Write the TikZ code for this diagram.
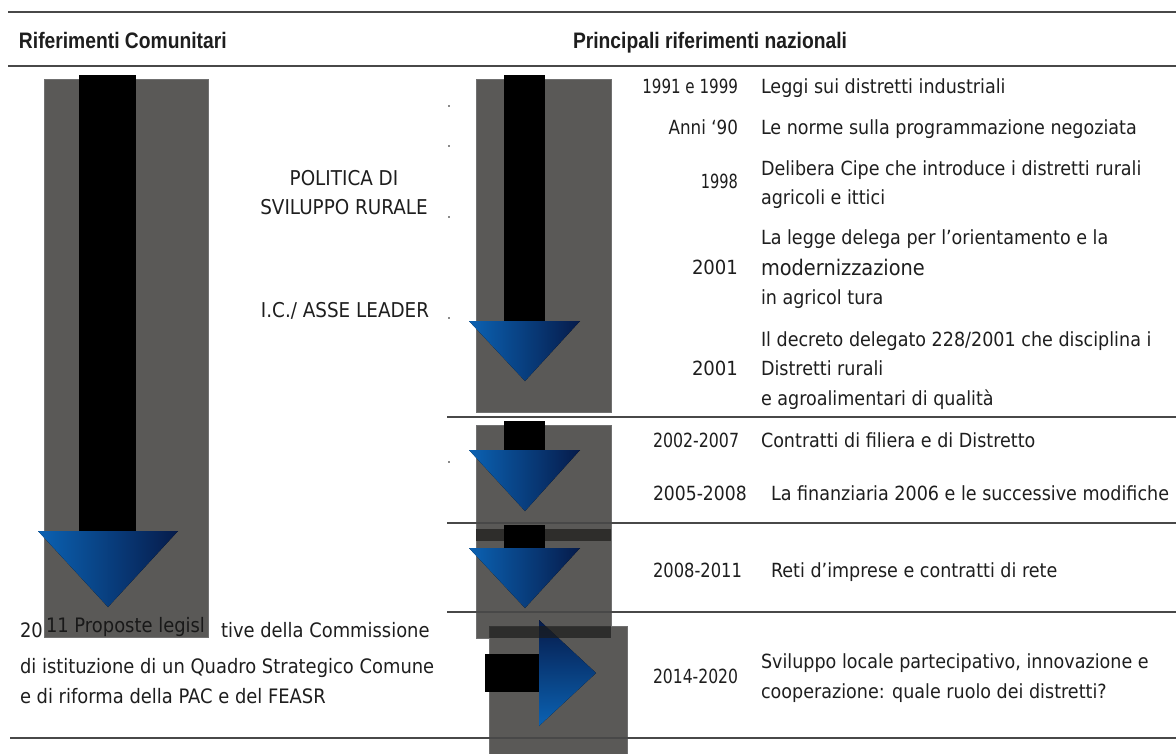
\documentclass[tikz,border=0pt]{standalone}
\usepackage{fontspec}
\usepackage{graphicx}
\newfontfamily\bodyf[FakeStretch=0.9]{DejaVu Sans}
\newfontfamily\headf[FakeStretch=0.86]{Liberation Sans}
\definecolor{boxgray}{HTML}{5A5957}
\definecolor{boxedge}{HTML}{707070}
\definecolor{bandgray}{HTML}{2E2D2B}
\definecolor{bandover}{HTML}{1B1B1A}
\definecolor{txt}{HTML}{1E1E1E}
\definecolor{rulec}{HTML}{484848}
\definecolor{blueL}{HTML}{0B62B3}
\definecolor{blueM}{HTML}{08519D}
\definecolor{blueD}{HTML}{061B4A}
\definecolor{speck}{HTML}{8A8A8A}
\newcommand{\hs}[2]{\scalebox{#1}[1]{#2}}
\begin{document}
\begin{tikzpicture}[x=1pt,y=-1pt,
  t/.style={inner sep=0pt, outer sep=0pt, text=txt, font=\bodyf\fontsize{19.5}{30}\selectfont},
  tl/.style={t, anchor=base west},
  tr/.style={t, anchor=base east},
  tc/.style={t, anchor=base, font=\bodyf\fontsize{20.4}{30}\selectfont},
  tb/.style={t, anchor=base west, font=\bodyf\fontsize{19.9}{30}\selectfont},
  hd/.style={inner sep=0pt, outer sep=0pt, anchor=base west, text=txt, font=\headf\bfseries\fontsize{22.4}{26}\selectfont},
  rulel/.style={draw=rulec, line width=1.6pt},
  gbox/.style={fill=boxgray, draw=boxedge, line width=0.6pt},
  shaft/.style={fill=black},
  downtri/.style={left color=blueL, middle color=blueM, right color=blueD},
  righttri/.style={top color=blueD, middle color=blueM, bottom color=blueL},
  speckst/.style={fill=speck},
  ]
\useasboundingbox (0,0) rectangle (1176,753);
\fill[white] (0,0) rectangle (1176,753);

% ---------- left big arrow ----------
\filldraw[gbox] (44,79) rectangle (208,637);
\fill[shaft] (79,75) rectangle (136,531);
\fill[downtri] (38,531) -- (178,531) -- (108,607) -- cycle;

% ---------- right arrows ----------
\filldraw[gbox] (476,79) rectangle (611,412);
\fill[shaft] (504,75) rectangle (545,321);
\fill[downtri] (469,321) -- (580,321) -- (525,381) -- cycle;

\filldraw[gbox] (476,425) rectangle (611,638);
\fill[bandgray] (476,529) rectangle (611,541);
\fill[shaft] (504,421) rectangle (545,450);
\fill[downtri] (469,450) -- (580,450) -- (525,511) -- cycle;
\fill[shaft] (504,525) rectangle (545,548);
\fill[downtri] (469,548) -- (580,548) -- (525,608) -- cycle;

\filldraw[gbox] (489,626) rectangle (627,760);
\fill[shaft] (485,654) rectangle (539,692);
\fill[righttri] (539,620) -- (596,673) -- (539,726) -- cycle;
\fill[bandover, opacity=0.7] (489,626) rectangle (611,638);

% ---------- rules ----------
\draw[rulel] (8,12) -- (1176,12);
\draw[rulel] (8,66) -- (1176,66);
\draw[rulel] (447,417) -- (1176,417);
\draw[rulel] (447,523) -- (1176,523);
\draw[rulel] (447,612) -- (1176,612);
\draw[rulel] (10,738) -- (1176,738);

% specks
\foreach \yy in {105,145,216,317,461} \fill[speckst] (447.5,\yy) rectangle (449.5,\yy+1.5);

% ---------- headers ----------
\node[hd] (hl) at (19,48) {Riferimenti Comunitari};
\node[hd] (hr) at (573,48) {Principali riferimenti nazionali};

% ---------- left texts ----------
\node[tc] (pol1) at (344,185) {POLITICA DI};
\node[tc] (pol2) at (344,214) {SVILUPPO RURALE};
\node[tc] (lead) at (345,317) {I.C./ ASSE LEADER};

\node[tb] (y20) at (20,637) {20};
\node[tb, text=black!90] (prop) at (46,632) {11 Proposte legisl};
\node[tb] (comm) at (221,637) {tive della Commissione};
\node[tb] (qsc) at (20,673) {di istituzione di un Quadro Strategico Comune};
\node[tb] (pac) at (20,703) {e di riforma della PAC e del FEASR};

% ---------- right texts ----------
\node[tr] (d1) at (738,93) {\hs{0.86}{1991 e 1999}};
\node[tl] (r1) at (761,93) {Leggi sui distretti industriali};
\node[tr] (d2) at (738,134) {\hs{0.955}{Anni ‘90}};
\node[tl] (r2) at (761,134) {Le norme sulla programmazione negoziata};
\node[tr] (d3) at (738,188) {\hs{0.83}{1998}};
\node[tl] (r3a) at (761,175) {Delibera Cipe che introduce i distretti rurali};
\node[tl] (r3b) at (761,204) {agricoli e ittici};
\node[tr] (d4) at (738,274) {\hs{1.03}{2001}};
\node[tl] (r4a) at (761,244) {La legge delega per l’orientamento e la};
\node[tl, font=\bodyf\fontsize{21.5}{30}\selectfont] (r4b) at (761,275) {modernizzazione};
\node[tl] (r4c) at (761,304) {in agricol tura};
\node[tr] (d5) at (738,375) {\hs{1.03}{2001}};
\node[tl] (r5a) at (761,346) {Il decreto delegato 228/2001 che disciplina i};
\node[tl] (r5b) at (761,375) {Distretti rurali};
\node[tl] (r5c) at (761,405) {e agroalimentari di qualità};
\node[tl] (d6) at (653,447) {\hs{0.9}{2002-2007}};
\node[tl] (r6) at (761,447) {Contratti di filiera e di Distretto};
\node[tl] (d7) at (653,500) {\hs{0.98}{2005-2008}};
\node[tl] (r7) at (771,500) {La finanziaria 2006 e le successive modifiche};
\node[tl] (d8) at (653,577) {\hs{0.93}{2008-2011}};
\node[tl] (r8) at (771,577) {Reti d’imprese e contratti di rete};
\node[tl] (d9) at (653,683) {\hs{0.89}{2014-2020}};
\node[tl] (r9a) at (761,668) {Sviluppo locale partecipativo, innovazione e};
\node[tl] (r9b) at (761,698) {cooperazione: quale ruolo dei distretti?};
\end{tikzpicture}
\end{document}
